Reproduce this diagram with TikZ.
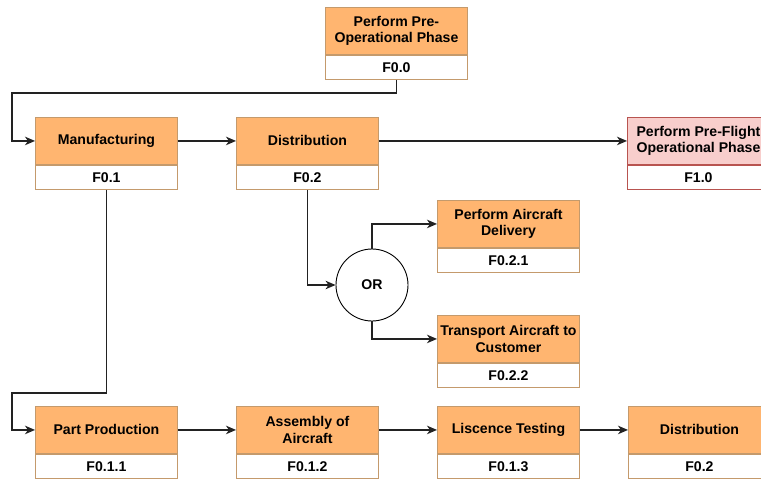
\documentclass[tikz,border=0pt]{standalone}
\usepackage{fontspec}
\setmainfont{Liberation Sans}
\usetikzlibrary{arrows.meta}
\definecolor{boxfill}{HTML}{FFB570}
\definecolor{boxline}{HTML}{C49A6C}
\definecolor{pinkfill}{HTML}{F8CECC}
\definecolor{pinkline}{HTML}{B85450}
\definecolor{wire}{HTML}{222222}
\tikzset{
  lbl/.style={font=\fontsize{14.1}{16.8}\selectfont\bfseries, align=center, inner sep=0pt},
  titlebox/.style={lbl, draw=boxline, fill=boxfill, line width=0.9pt,
    minimum width=142pt, minimum height=47pt, anchor=north west},
  idbox/.style={lbl, draw=boxline, fill=white, line width=0.9pt,
    minimum width=142pt, minimum height=24pt, anchor=north},
  arr/.style={draw=wire, line width=1.2pt,
    -{Stealth[length=10pt,width=8.5pt,inset=3pt]}},
}
% function block: name, left x, top y, title, identifier
\newcommand\funcblock[5]{%
  \node[titlebox] (#1) at (#2,#3) {#4};
  \node[idbox] (#1id) at (#1.south) {#5};
}
\begin{document}
\begin{tikzpicture}[x=1pt,y=-1pt]
\useasboundingbox (0,0) rectangle (761,479);
\clip (0,0) rectangle (761,479);
\fill[white] (0,0) rectangle (761,479);

\funcblock{top}{325}{7}{Perform Pre-\\Operational Phase}{F0.0}
\funcblock{man}{35}{117}{Manufacturing}{F0.1}
\funcblock{dis}{236}{117}{Distribution}{F0.2}
\node[titlebox, draw=pinkline, fill=pinkfill] (pre) at (627,117) {Perform Pre-Flight\\Operational Phase};
\node[idbox, draw=pinkline] (preid) at (pre.south) {F1.0};
\funcblock{del}{437}{200}{Perform Aircraft\\Delivery}{F0.2.1}
\funcblock{tra}{437}{315}{Transport Aircraft to\\Customer}{F0.2.2}
\funcblock{par}{35}{406}{Part Production}{F0.1.1}
\funcblock{asm}{236}{406}{Assembly of\\Aircraft}{F0.1.2}
\funcblock{lic}{437}{406}{Liscence Testing}{F0.1.3}
\funcblock{dtw}{628}{406}{Distribution}{F0.2}

\node[lbl, circle, draw=black, fill=white, line width=0.9pt, minimum size=72pt] (or) at (372,285) {OR};

\coordinate (bendA) at (12,93);
\coordinate (bendB) at (12,393);

\draw[arr] (topid.south) |- (bendA) |- (man.west);
\draw[arr] (man.east) -- (dis.west);
\draw[arr] (dis.east) -- (pre.west);
\draw[arr] (disid.south) |- (or.west);
\draw[arr] (or.north) |- (del.west);
\draw[arr] (or.south) |- (tra.west);
\draw[arr] (manid.south) |- (bendB) |- (par.west);
\draw[arr] (par.east) -- (asm.west);
\draw[arr] (asm.east) -- (lic.west);
\draw[arr] (lic.east) -- (dtw.west);
\end{tikzpicture}
\end{document}
